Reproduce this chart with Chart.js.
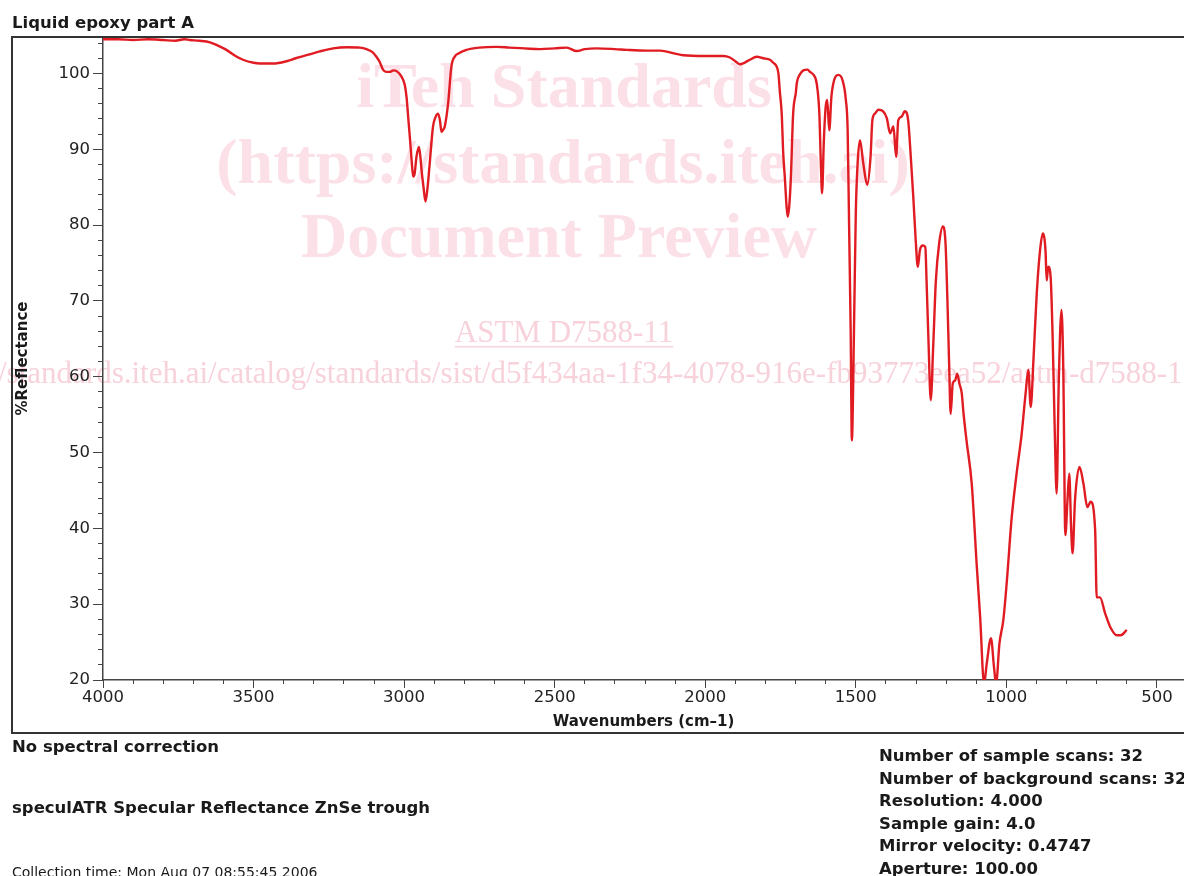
<!DOCTYPE html>
<html>
<head>
<meta charset="utf-8">
<script src="https://cdn.jsdelivr.net/npm/chart.js@4.4.1/dist/chart.umd.min.js"></script>
<style>
    html, body { margin: 0; padding: 0; background: #fff; }
    #wrap { position: relative; width: 1184px; height: 876px; overflow: hidden; }
    canvas { position: absolute; left: 0; top: 0; }
</style>
</head>
<body>
<div id="wrap"><canvas id="spectrumChart" width="1184" height="876"></canvas></div>
<script>
// spectrum (wavenumber, %reflectance)
const waveNumbers = [
    4000, 3950, 3900, 3850, 3800, 3760, 3730, 3712, 3680, 3645, 3620, 3590, 3560, 3535, 3500, 3479,
    3435, 3391, 3360, 3324, 3280, 3236, 3190, 3147, 3125, 3105, 3092, 3081, 3070, 3060, 3048, 3035,
    3025, 3009, 2998, 2992, 2985, 2981, 2975, 2970, 2965, 2959, 2951, 2946, 2942, 2935, 2929, 2922,
    2915, 2904, 2895, 2887, 2881, 2876, 2870, 2865, 2854, 2843, 2830, 2821, 2793, 2750, 2693, 2650,
    2600, 2549, 2500, 2460, 2427, 2400, 2361, 2300, 2261, 2195, 2150, 2100, 2073, 2000, 1940, 1918,
    1900, 1885, 1870, 1852, 1829, 1807, 1785, 1774, 1763, 1757, 1752, 1746, 1741, 1735, 1730, 1726,
    1721, 1716, 1708, 1699, 1696, 1685, 1674, 1660, 1652, 1640, 1630, 1621, 1616, 1612, 1606, 1600,
    1595, 1588, 1581, 1572, 1558, 1544, 1533, 1527, 1522, 1517, 1513, 1506, 1500, 1494, 1486, 1475,
    1462, 1451, 1445, 1436, 1425, 1409, 1397, 1386, 1375, 1366, 1359, 1348, 1337, 1326, 1318, 1309,
    1301, 1294, 1287, 1278, 1269, 1265, 1259, 1251, 1243, 1234, 1223, 1211, 1202, 1196, 1190, 1185,
    1178, 1170, 1163, 1156, 1148, 1143, 1132, 1115, 1098, 1087, 1074, 1065, 1051, 1041, 1034, 1023,
    1010, 999, 982, 966, 949, 936, 927, 919, 910, 899, 888, 879, 870, 866, 861, 853,
    846, 839, 833, 826, 817, 811, 804, 797, 791, 785, 780, 772, 757, 744, 731, 720,
    705, 700, 689, 672, 655, 633, 620, 600
];
const reflectance = [
    104.5, 104.5, 104.4, 104.5, 104.4, 104.3, 104.5, 104.4, 104.3, 104.1, 103.7, 103.1, 102.3, 101.8, 101.4, 101.3,
    101.3, 101.6, 102.0, 102.4, 102.9, 103.3, 103.45, 103.4, 103.2, 102.8, 102.2, 101.5, 100.5, 100.2, 100.2, 100.4,
    100.3, 99.6, 98.5, 96.9, 93.5, 91.6, 88.5, 86.4, 86.8, 89.0, 90.3, 89.0, 87.2, 84.8, 83.1, 85.0,
    88.1, 93.0, 94.3, 94.7, 93.8, 92.3, 92.6, 93.0, 96.0, 100.9, 102.3, 102.6, 103.1, 103.4, 103.5, 103.4,
    103.3, 103.2, 103.3, 103.4, 102.95, 103.2, 103.3, 103.2, 103.1, 103.0, 103.0, 102.6, 102.4, 102.3, 102.3, 102.1,
    101.6, 101.2, 101.4, 101.8, 102.2, 102.0, 101.8, 101.4, 100.9, 100.0, 97.5, 94.7, 89.5, 85.9, 82.5, 81.1,
    82.5, 85.9, 94.7, 97.5, 98.7, 99.9, 100.4, 100.5, 100.2, 99.8, 98.7, 94.7, 88.1, 84.2, 91.2, 95.6,
    96.5, 92.5, 96.9, 99.1, 99.8, 99.1, 96.5, 92.5, 79.3, 66.1, 51.6, 66.1, 81.5, 88.1, 91.2, 88.1,
    85.3, 89.0, 93.8, 94.7, 95.2, 95.0, 94.1, 92.1, 93.0, 89.0, 93.8, 94.3, 95.0, 93.8, 89.4, 83.7,
    78.0, 74.5, 76.7, 77.3, 77.1, 72.7, 65.3, 56.9, 63.9, 72.7, 77.6, 79.8, 77.6, 70.5, 61.7, 55.1,
    59.1, 59.5, 60.4, 59.1, 57.8, 55.5, 51.5, 45.9, 34.9, 28.3, 19.5, 22.2, 25.5, 21.7, 19.5, 24.8,
    27.9, 32.7, 41.5, 47.2, 52.5, 57.8, 60.9, 56.0, 62.2, 71.0, 76.7, 78.9, 76.7, 72.7, 74.5, 73.2,
    64.8, 52.5, 44.6, 59.1, 68.8, 61.3, 39.1, 43.7, 47.2, 40.2, 36.7, 43.7, 48.1, 45.9, 42.8, 43.5,
    39.7, 30.9, 30.9, 28.8, 27.0, 25.9, 25.9, 26.6
];

// axis ranges and ticks
const xRange = [410, 4000];
const yRange = [20, 104.8];
const xMajorTicks = [500, 1000, 1500, 2000, 2500, 3000, 3500, 4000];
const yMajorTicks = [20, 30, 40, 50, 60, 70, 80, 90, 100];
const xMinorTicks = [];
for (let v = 500; v <= 4000; v += 100) xMinorTicks.push(v);
const yMinorTicks = [];
for (let v = 20; v <= 104; v += 2) yMinorTicks.push(v);

const chartTitle = 'Liquid epoxy part A';
const xTitle = 'Wavenumbers (cm–1)';
const yTitle = '%Reflectance';
const infoLeft = ['No spectral correction', 'speculATR Specular Reflectance ZnSe trough'];
const collectionTime = 'Collection time: Mon Aug 07 08:55:45 2006';
const infoRight = [
    'Number of sample scans: 32',
    'Number of background scans: 32',
    'Resolution: 4.000',
    'Sample gain: 4.0',
    'Mirror velocity: 0.4747',
    'Aperture: 100.00'
];
const watermarkBig = ['iTeh Standards', '(https://standards.iteh.ai)', 'Document Preview'];
const watermarkSmall = 'ASTM D7588-11';
const watermarkUrl = 'https://standards.iteh.ai/catalog/standards/sist/d5f434aa-1f34-4078-916e-fb93773eea52/astm-d7588-11';

const FONT = '"DejaVu Sans", Verdana, sans-serif';
const SERIF = '"Liberation Serif", "DejaVu Serif", serif';
const AXIS_COLOR = '#444';

// frame, header, footer text and the pale watermark behind the plot
const pagePlugin = {
    id: 'page',
    beforeDraw(chart) {
        const ctx = chart.ctx;
        ctx.save();
        ctx.fillStyle = '#fff';
        ctx.fillRect(0, 0, chart.width, chart.height);

        ctx.fillStyle = '#fbe0e7';
        ctx.textAlign = 'center';
        ctx.font = 'bold 64px ' + SERIF;
        ctx.fillText(watermarkBig[0], 564, 107);
        ctx.fillText(watermarkBig[1], 563, 183);
        ctx.fillText(watermarkBig[2], 559, 257);

        ctx.fillStyle = '#f7d2db';
        ctx.font = '31px ' + SERIF;
        ctx.fillText(watermarkSmall, 564, 342);
        const w = ctx.measureText(watermarkSmall).width;
        ctx.fillRect(564 - w / 2, 346, w, 1.5);

        ctx.textAlign = 'left';
        const skip = ctx.measureText('https:/').width;
        ctx.fillText(watermarkUrl, -skip - 2, 383);
        ctx.restore();
    },
    afterDraw(chart) {
        const ctx = chart.ctx;
        ctx.save();
        ctx.strokeStyle = '#333';
        ctx.lineWidth = 2;
        ctx.strokeRect(12, 37, 1200, 696);

        ctx.fillStyle = '#1a1a1a';
        ctx.textAlign = 'left';
        ctx.textBaseline = 'alphabetic';
        ctx.font = 'bold 16.5px ' + FONT;
        ctx.fillText(chartTitle, 12, 28);
        ctx.fillText(infoLeft[0], 12, 752);
        ctx.fillText(infoLeft[1], 12, 813);
        infoRight.forEach((line, i) => {
            ctx.fillText(line, 879, 761 + i * 22.5);
        });
        ctx.font = '14px ' + FONT;
        ctx.fillText(collectionTime, 12, 877);
        ctx.restore();
    }
};

function majorAxis(position, range, tickList, tickLen, titleText, fitSize) {
    const horizontal = position === 'bottom';
    return {
        type: 'linear',
        position: position,
        reverse: horizontal,
        min: range[0],
        max: range[1],
        weight: 1,
        afterBuildTicks: scale => {
            scale.ticks = tickList.map(v => ({ value: v }));
        },
        afterFit: scale => {
            if (horizontal) scale.height = fitSize; else scale.width = fitSize;
        },
        ticks: {
            autoSkip: false,
            maxRotation: 0,
            padding: horizontal ? 0 : 3,
            color: '#222',
            font: { family: FONT, size: 16.5 },
            callback: v => String(v)
        },
        grid: { drawOnChartArea: false, tickLength: tickLen, tickColor: AXIS_COLOR, tickWidth: 1 },
        border: { display: true, color: AXIS_COLOR, width: 1.5 },
        title: {
            display: true,
            text: titleText,
            color: '#1a1a1a',
            font: { family: FONT, size: 15, weight: 'bold' },
            padding: horizontal ? { top: 0, bottom: 2 } : { top: 14, bottom: 0 }
        }
    };
}

function minorAxis(position, range, tickList, tickLen) {
    const horizontal = position === 'bottom';
    return {
        type: 'linear',
        position: position,
        reverse: horizontal,
        min: range[0],
        max: range[1],
        weight: 0,
        afterBuildTicks: scale => {
            scale.ticks = tickList.map(v => ({ value: v }));
        },
        afterFit: scale => {
            if (horizontal) scale.height = 0; else scale.width = 0;
        },
        ticks: { display: false, autoSkip: false },
        grid: { drawOnChartArea: false, tickLength: tickLen, tickColor: AXIS_COLOR, tickWidth: 1 },
        border: { display: false }
    };
}

const ctx = document.getElementById('spectrumChart').getContext('2d');
const spectrumChart = new Chart(ctx, {
    type: 'line',
    data: {
        datasets: [{
            label: chartTitle,
            data: waveNumbers.map((w, i) => ({ x: w, y: reflectance[i] })),
            borderColor: '#e01c22',
            borderWidth: 2.4,
            pointRadius: 0,
            cubicInterpolationMode: 'monotone',
            fill: false
        }]
    },
    options: {
        responsive: false,
        animation: false,
        events: [],
        layout: { padding: { left: 0, top: 37, right: 0, bottom: 143 } },
        plugins: {
            legend: { display: false },
            tooltip: { enabled: false }
        },
        scales: {
            x: majorAxis('bottom', xRange, xMajorTicks, 8, xTitle, 53),
            xMinor: minorAxis('bottom', xRange, xMinorTicks, 4),
            y: majorAxis('left', yRange, yMajorTicks, 10, yTitle, 103),
            yMinor: minorAxis('left', yRange, yMinorTicks, 5)
        }
    },
    plugins: [pagePlugin]
});
</script>
</body>
</html>
